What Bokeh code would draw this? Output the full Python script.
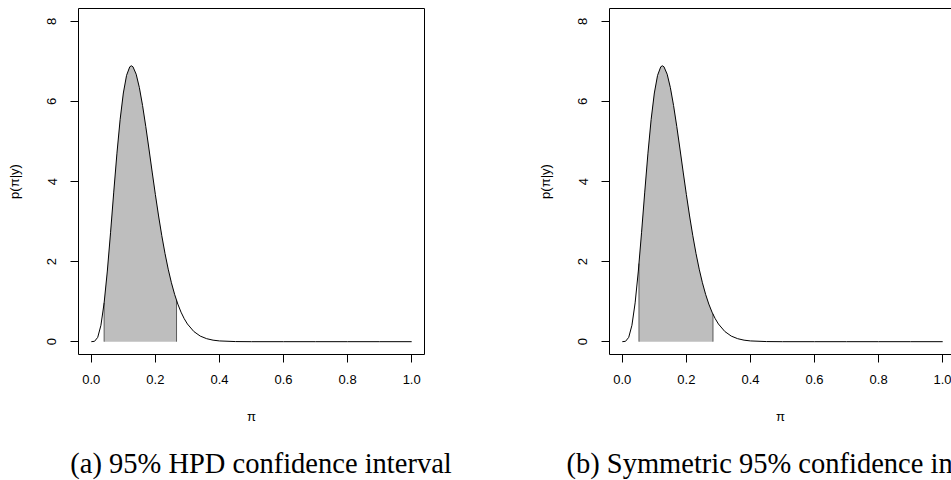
from bokeh.plotting import figure
from bokeh.models import Range1d, FixedTicker, PrintfTickFormatter, LinearAxis, Div
from bokeh.layouts import row, column
from bokeh.embed import file_html
from bokeh.resources import INLINE

# ---- data ----
pi_grid = [0.00, 0.01, 0.02, 0.03, 0.04, 0.05, 0.06, 0.07, 0.08, 0.09,
           0.10, 0.11, 0.12, 0.125, 0.13, 0.14, 0.15, 0.16, 0.17, 0.18, 0.19,
           0.20, 0.21, 0.22, 0.23, 0.24, 0.25, 0.26, 0.27, 0.28, 0.29,
           0.30, 0.32, 0.34, 0.36, 0.38, 0.40, 0.45, 0.50,
           0.60, 0.70, 0.80, 0.90, 1.00]
density = [0.0, 0.009, 0.108, 0.410, 0.969, 1.764, 2.720, 3.735, 4.707, 5.552,
           6.210, 6.650, 6.864, 6.889, 6.865, 6.680, 6.345, 5.897, 5.374, 4.811, 4.236,
           3.673, 3.139, 2.647, 2.203, 1.811, 1.472, 1.182, 0.939, 0.738, 0.574,
           0.442, 0.254, 0.140, 0.075, 0.038, 0.019, 0.003, 0.0003,
           0.0, 0.0, 0.0, 0.0, 0.0]

hpd_bounds = [0.040, 0.266]
hpd_bound_density = [0.97, 1.03]
sym_bounds = [0.052, 0.283]
sym_bound_density = [1.95, 0.69]

x_ticks = [0.0, 0.2, 0.4, 0.6, 0.8, 1.0]
y_ticks = [0, 2, 4, 6, 8]
x_label = "π"
y_label = "p(π|y)"
captions = ["(a) 95% HPD confidence interval",
            "(b) Symmetric 95% confidence interval"]

SANS = "Liberation Sans"
SERIF = "Liberation Serif"


def style_axis(ax, standoff):
    ax.major_tick_out = 8
    ax.major_tick_in = 0
    ax.minor_tick_line_color = None
    ax.major_tick_line_color = "black"
    ax.major_label_text_font = SANS
    ax.major_label_text_font_size = "13px"
    ax.major_label_text_color = "black"
    ax.major_label_standoff = standoff
    ax.axis_label_text_font = SANS
    ax.axis_label_text_font_size = "13px"
    ax.axis_label_text_font_style = "normal"
    ax.axis_label_text_color = "black"


def make_panel(bounds, bdens, width, border_right, x_end, boxed):
    p = figure(width=width, height=440,
               x_range=Range1d(-0.04, x_end), y_range=Range1d(-0.32, 8.32),
               output_backend="svg", toolbar_location=None,
               min_border_left=78, min_border_right=border_right,
               min_border_top=8, min_border_bottom=86)
    p.grid.visible = False
    p.background_fill_color = "white"
    p.border_fill_color = "white"

    inside = [(x, d) for x, d in zip(pi_grid, density) if bounds[0] < x < bounds[1]]
    px = [bounds[0], bounds[0]] + [x for x, _ in inside] + [bounds[1], bounds[1]]
    py = [0.0, bdens[0]] + [d for _, d in inside] + [bdens[1], 0.0]
    p.patch(px, py, fill_color="#bebebe", line_color=None)
    p.segment(x0=bounds, y0=[0, 0], x1=bounds, y1=bdens,
              line_color="#5a5a5a", line_width=1)
    p.line(pi_grid, density, line_color="black", line_width=1)

    xa = p.xaxis[0]
    ya = p.yaxis[0]
    style_axis(xa, 12)
    style_axis(ya, 14)
    xa.ticker = FixedTicker(ticks=x_ticks)
    xa.formatter = PrintfTickFormatter(format="%.1f")
    xa.axis_label = x_label
    xa.axis_label_standoff = 22
    ya.ticker = FixedTicker(ticks=y_ticks)
    ya.major_label_orientation = "vertical"
    ya.axis_label = y_label
    ya.axis_label_standoff = 23

    if boxed:
        p.outline_line_color = "black"
        p.outline_line_alpha = 1.0
        p.outline_line_width = 1
        xa.axis_line_color = None
        ya.axis_line_color = None
    else:
        # the box's right edge lies beyond the window: draw left/bottom/top edges only
        p.outline_line_color = None
        xa.axis_line_color = "black"
        ya.axis_line_color = "black"
        top = LinearAxis(ticker=FixedTicker(ticks=[]), major_label_text_font_size="0px",
                         major_tick_line_color=None, minor_tick_line_color=None,
                         axis_line_color="black")
        p.add_layout(top, "above")
    return p


def caption_div(text, width):
    html = ('<div style="position:relative;top:4px;width:522px;text-align:center;'
            'white-space:nowrap;font-family:\'%s\';font-size:28.5px;line-height:40px;'
            'color:black;">%s</div>' % (SERIF, text))
    return Div(text=html, width=width, height=40, margin=(0, 0, 0, 0),
               styles={"overflow": "hidden", "background-color": "white"})


left = make_panel(hpd_bounds, hpd_bound_density, 531, 107, 1.04, True)
right = make_panel(sym_bounds, sym_bound_density, 420, 0, 1.0275, False)

layout = column(row(left, right, spacing=0),
                row(caption_div(captions[0], 531), caption_div(captions[1], 420), spacing=0),
                spacing=0)
open("out.html", "w").write(file_html(layout, INLINE))
